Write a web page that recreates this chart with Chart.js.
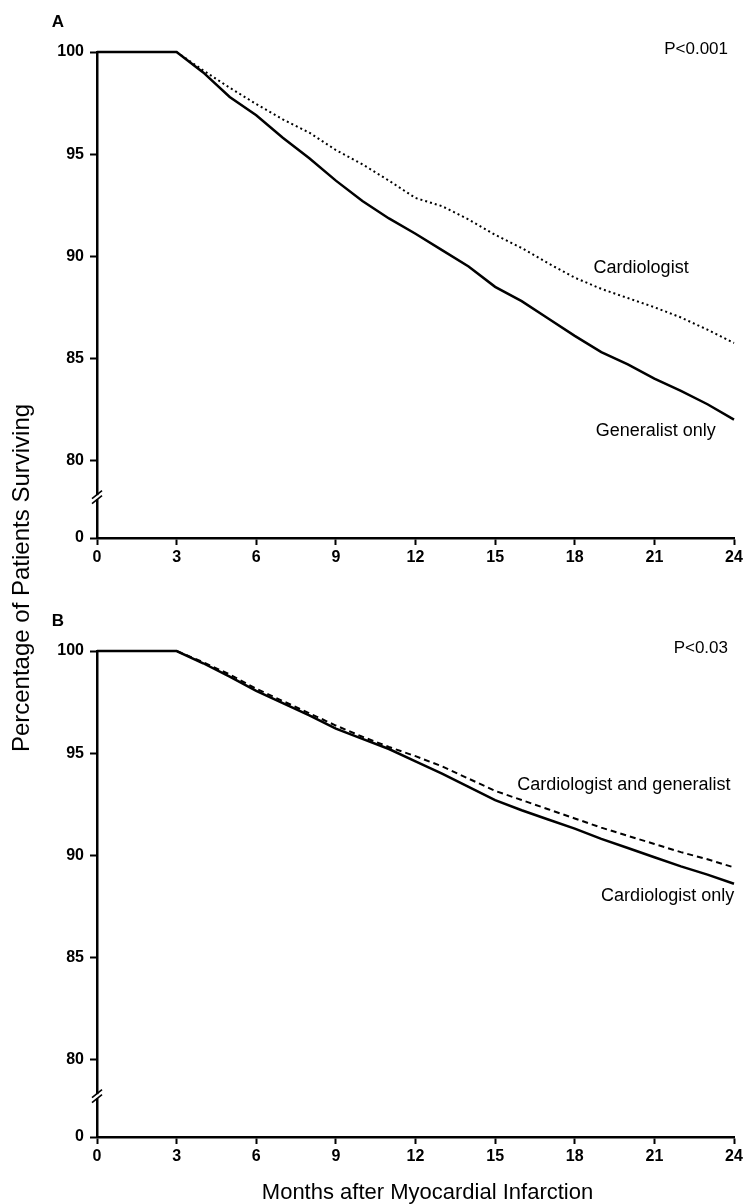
<!DOCTYPE html>
<html>
<head>
<meta charset="utf-8">
<script src="https://cdn.jsdelivr.net/npm/chart.js@4.4.0/dist/chart.umd.min.js"></script>
<style>
  html, body { margin: 0; padding: 0; background: #fff; }
  #page { position: relative; width: 748px; height: 1204px; overflow: hidden; }
  canvas { position: absolute; left: 0; }
  #chartA { top: 0; }
  #chartB { top: 600px; }
  #ytitle {
    position: absolute; left: -179px; top: 564px; width: 400px; height: 28px;
    line-height: 28px; text-align: center; white-space: nowrap;
    transform: rotate(-90deg);
    font: 24px "Liberation Sans", Arial, sans-serif; color: #000;
  }
</style>
</head>
<body>
<div id="page">
  <canvas id="chartA" width="748" height="600"></canvas>
  <canvas id="chartB" width="748" height="604"></canvas>
  <div id="ytitle">Percentage of Patients Surviving</div>
</div>
<script>
// months after MI (x), shared by all curves
const months = [0, 3, 4, 5, 6, 7, 8, 9, 10, 11, 12, 13, 14, 15, 16, 17, 18, 19, 20, 21, 22, 23, 24];

// panel A
const generalistOnly = [100, 100, 99.0, 97.8, 96.9, 95.8, 94.8, 93.7, 92.7, 91.85, 91.1, 90.3, 89.5, 88.5, 87.8, 86.95, 86.1, 85.3, 84.7, 84.0, 83.4, 82.75, 82.0];
const cardiologist   = [100, 100, 99.1, 98.25, 97.45, 96.7, 96.05, 95.2, 94.5, 93.7, 92.85, 92.45, 91.8, 91.05, 90.4, 89.65, 88.95, 88.4, 87.95, 87.5, 87.0, 86.4, 85.75];

// panel B
const cardiologistOnly = [100, 100, 99.4, 98.75, 98.05, 97.45, 96.85, 96.2, 95.7, 95.2, 94.6, 94.0, 93.35, 92.7, 92.2, 91.75, 91.3, 90.8, 90.35, 89.9, 89.45, 89.05, 88.6];
const cardioAndGeneral = [100, 100, 99.45, 98.85, 98.15, 97.55, 96.95, 96.35, 95.8, 95.3, 94.85, 94.35, 93.75, 93.15, 92.7, 92.25, 91.8, 91.35, 90.95, 90.55, 90.15, 89.8, 89.4];

// axis ticks
const xTicks = [0, 3, 6, 9, 12, 15, 18, 21, 24];
const yTicks = [80, 85, 90, 95, 100];
const yZeroAt = 76.2;   // broken axis: this value is labelled 0
const yBreakAt = 78.2;

const FONT = '"Liberation Sans", Arial, sans-serif';

function pts(ys) {
  return months.map((m, i) => ({ x: m, y: ys[i] }));
}

// labels, panel letter, p value, x title and the axis break
const panelText = {
  id: 'panelText',
  afterDraw(chart, args, opts) {
    const { ctx, chartArea, scales: { x, y } } = chart;
    ctx.save();
    ctx.fillStyle = '#000';
    ctx.textBaseline = 'middle';

    ctx.font = 'bold 17px ' + FONT;
    ctx.textAlign = 'center';
    ctx.fillText(opts.letter, chartArea.left - 39, chartArea.top - 30);

    ctx.font = '17px ' + FONT;
    ctx.textAlign = 'right';
    ctx.fillText(opts.pValue, chartArea.right - 6, chartArea.top - 3);

    ctx.font = '18px ' + FONT;
    ctx.textAlign = 'center';
    opts.labels.forEach(l => {
      ctx.fillText(l.text, x.getPixelForValue(l.x), y.getPixelForValue(l.y));
    });

    if (opts.xTitle) {
      ctx.font = '22px ' + FONT;
      ctx.fillText(opts.xTitle, (chartArea.left + chartArea.right) / 2 + 12, chart.height - 11);
    }

    // "//" break on the y axis
    const bx = chartArea.left, by = y.getPixelForValue(yBreakAt);
    ctx.fillStyle = '#fff';
    ctx.fillRect(bx - 3, by - 2, 6, 4);
    ctx.strokeStyle = '#000';
    ctx.lineWidth = 1.6;
    [-2.5, 2.5].forEach(d => {
      ctx.beginPath();
      ctx.moveTo(bx - 5, by + d + 4);
      ctx.lineTo(bx + 5, by + d - 4);
      ctx.stroke();
    });
    ctx.restore();
  }
};

function makeChart(id, datasets, opts) {
  return new Chart(document.getElementById(id), {
    type: 'line',
    data: { datasets },
    options: {
      responsive: false,
      animation: false,
      events: [],
      layout: { padding: { top: opts.top, right: 14, left: 0, bottom: 0 } },
      elements: { point: { radius: 0 }, line: { tension: 0 } },
      plugins: {
        legend: { display: false },
        tooltip: { enabled: false },
        panelText: opts.text
      },
      scales: {
        x: {
          type: 'linear', min: 0, max: 24,
          afterBuildTicks: s => { s.ticks = xTicks.map(v => ({ value: v })); },
          afterFit: s => { s.height = opts.xHeight; },
          border: { display: true, color: '#000', width: 2.5 },
          grid: { drawOnChartArea: false, drawTicks: true, tickLength: 7, tickColor: '#000', tickWidth: 2 },
          ticks: { color: '#000', padding: 3, maxRotation: 0, font: { family: FONT, size: 16, weight: 'bold' } }
        },
        y: {
          type: 'linear', min: yZeroAt, max: 100,
          afterBuildTicks: s => { s.ticks = [yZeroAt, ...yTicks].map(v => ({ value: v })); },
          afterFit: s => { s.width = 97; },
          border: { display: true, color: '#000', width: 2.5 },
          grid: { drawOnChartArea: false, drawTicks: true, tickLength: 7, tickColor: '#000', tickWidth: 2 },
          ticks: {
            color: '#000', padding: 6,
            font: { family: FONT, size: 16, weight: 'bold' },
            callback: v => (v === yZeroAt ? '0' : String(v))
          }
        }
      }
    },
    plugins: [panelText]
  });
}

const solid = { borderColor: '#000', borderWidth: 2.5, fill: false, clip: false };

makeChart('chartA', [
  { ...solid, label: 'Generalist only', data: pts(generalistOnly) },
  { ...solid, label: 'Cardiologist', data: pts(cardiologist), borderWidth: 2, borderDash: [2, 3] }
], {
  top: 52, xHeight: 62,
  text: {
    letter: 'A', pValue: 'P<0.001',
    labels: [
      { text: 'Cardiologist', x: 20.5, y: 89.4 },
      { text: 'Generalist only', x: 21.05, y: 81.45 }
    ]
  }
});

makeChart('chartB', [
  { ...solid, label: 'Cardiologist only', data: pts(cardiologistOnly) },
  { ...solid, label: 'Cardiologist and generalist', data: pts(cardioAndGeneral), borderWidth: 2, borderDash: [6, 4] }
], {
  top: 51, xHeight: 67,
  text: {
    letter: 'B', pValue: 'P<0.03', xTitle: 'Months after Myocardial Infarction',
    labels: [
      { text: 'Cardiologist and generalist', x: 19.85, y: 93.45 },
      { text: 'Cardiologist only', x: 21.5, y: 88.0 }
    ]
  }
});
</script>
</body>
</html>
